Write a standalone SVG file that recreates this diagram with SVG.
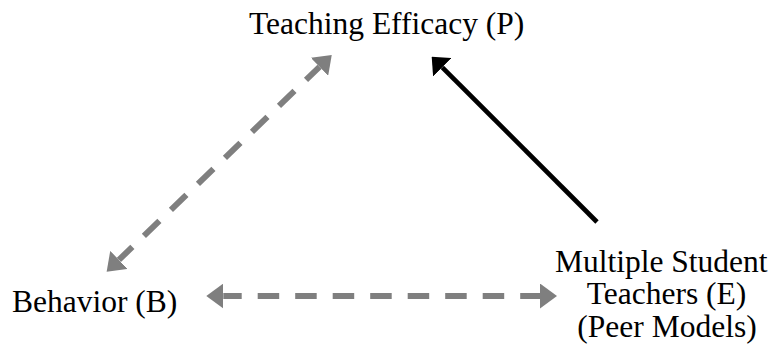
<svg xmlns="http://www.w3.org/2000/svg" width="772" height="352" viewBox="0 0 772 352">
<style>
  .lbl { font-family: "Liberation Serif", "Times New Roman", serif; font-size: 31.5px; fill: #000; text-anchor: middle; }
  .gray { stroke: #7f7f7f; stroke-width: 6; fill: none; stroke-dasharray: 21.5 16; }
  .black { stroke: #000; stroke-width: 4.7; fill: none; }
</style>
<defs>
  <marker id="headGray" markerUnits="userSpaceOnUse" viewBox="0 0 17 25" refX="0" refY="12.5" markerWidth="17" markerHeight="25" orient="auto-start-reverse">
    <path d="M0,0 L17,12.5 L0,25 z" fill="#7f7f7f"/>
  </marker>
  <marker id="headBlack" markerUnits="userSpaceOnUse" viewBox="0 0 15 26" refX="0" refY="13" markerWidth="15" markerHeight="26" orient="auto">
    <path d="M0,0 L15,13 L0,26 z" fill="#000"/>
  </marker>
</defs>
<g id="node-P"><text class="lbl" x="386.7" y="34.3">Teaching Efficacy (P)</text></g>
<g id="node-B"><text class="lbl" x="94.7" y="312">Behavior (B)</text></g>
<g id="node-E">
  <text class="lbl" x="661.2" y="272">Multiple Student</text>
  <text class="lbl" x="666.5" y="304.2">Teachers (E)</text>
  <text class="lbl" x="667" y="336.7">(Peer Models)</text>
</g>
<g id="connectors">
  <line class="gray" x1="223.3" y1="296" x2="540" y2="296" stroke-dashoffset="3.1" marker-start="url(#headGray)" marker-end="url(#headGray)"/>
  <line class="gray" x1="118.9" y1="259.9" x2="319.5" y2="66.8" stroke-dashoffset="2.8" marker-start="url(#headGray)" marker-end="url(#headGray)"/>
  <line class="black" x1="597" y1="222" x2="442.3" y2="67.3" marker-end="url(#headBlack)"/>
</g>
</svg>
